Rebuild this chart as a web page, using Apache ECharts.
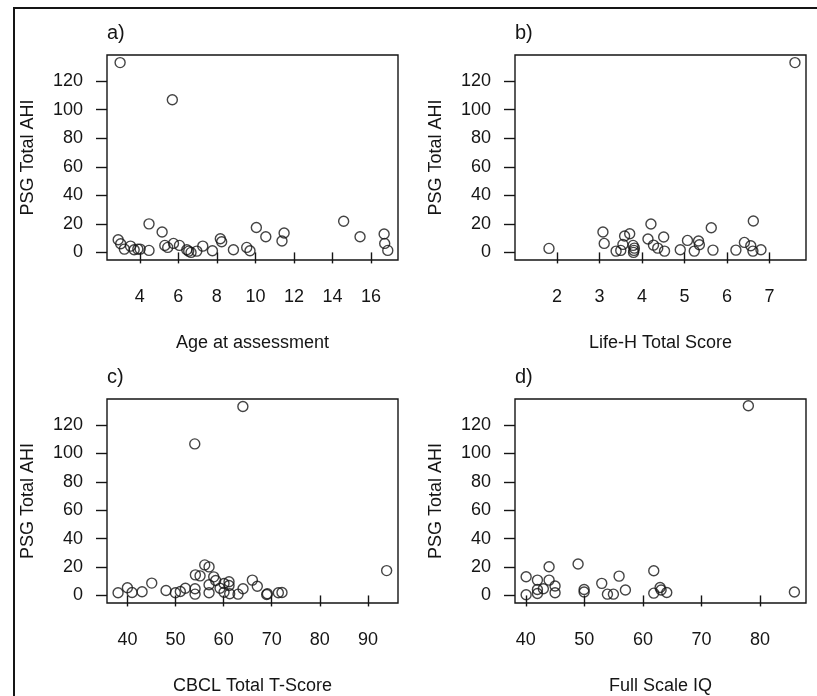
<!DOCTYPE html>
<html lang="en">
<head>
    <meta charset="UTF-8">
    <title>PSG Total AHI scatter panels</title>
    <script src="https://cdn.jsdelivr.net/npm/echarts@6/dist/echarts.min.js"></script>
    <style>
        html, body { margin: 0; padding: 0; background: #fff; }
        #main { width: 817px; height: 696px; }
    </style>
</head>
<body>
<div id="main"></div>
<script>
    // panel a) age at assessment vs AHI
    var ageX = [2.98, 5.69, 4.48, 5.16, 2.88, 3.01, 3.2, 3.52, 3.71, 3.9, 4.02, 4.48, 5.3, 5.45, 5.75, 6.06, 6.44, 6.54,
        6.66, 6.96, 7.27, 7.77, 8.18, 8.25, 8.86, 9.55, 9.72, 10.05, 10.54, 11.38, 11.49, 14.58, 15.43, 16.68, 16.71, 16.87];
    var ageY = [133, 107, 20, 14.3, 8.9, 6.1, 2.3, 4.4, 1.9, 2.3, 2.3, 1.4, 4.9, 3.5, 6.3, 4.9, 1.9, 0.9,
        0, 0.9, 4.4, 1.2, 9.6, 7.5, 1.9, 3.5, 1.2, 17.5, 11, 8, 13.6, 21.8, 11, 12.9, 6.3, 1.4];

    // panel b) Life-H total score vs AHI
    var lifeX = [1.81, 3.08, 3.11, 3.39, 3.5, 3.55, 3.59, 3.71, 3.79, 3.82, 3.81, 3.8, 4.14, 4.21, 4.27, 4.37, 4.51,
        4.53, 4.9, 5.07, 5.23, 5.33, 5.35, 5.63, 5.67, 6.21, 6.41, 6.56, 6.62, 6.61, 6.8, 7.6];
    var lifeY = [2.8, 14.3, 6.3, 0.9, 1.4, 5.6, 11.5, 13.1, 4.9, 3.0, 1.4, 0, 9.4, 19.9, 5.1, 3.0, 10.8,
        0.9, 1.9, 8.4, 0.9, 8.0, 5.4, 17.3, 1.6, 1.6, 7.0, 4.7, 22, 0.9, 1.9, 133];

    // panel c) CBCL total T-score vs AHI
    var cbclX = [38.06, 40, 40.97, 43.05, 45.06, 48.03, 49.97, 51, 52.05, 54.06, 54.06, 54.13, 55.1, 56.07, 56.97, 57.94,
        56.97, 56.97, 58.35, 59.25, 60.08, 60.08, 61.12, 61.12, 61.26, 63, 64.03, 65.97, 67, 68.95, 69.09, 71.37,
        72.13, 93.88, 54, 64];
    var cbclY = [1.9, 5.4, 2.1, 2.6, 8.7, 3.5, 1.9, 2.8, 5.1, 4.7, 0.9, 14.5, 13.8, 21.5, 20.1, 13.1,
        7.5, 1.9, 10.5, 5.1, 8.4, 2.3, 9.6, 7.0, 1.2, 0.9, 4.7, 10.8, 6.5, 0.7, 1.2, 1.9,
        2.1, 17.5, 106.7, 133];

    // panel d) full scale IQ vs AHI
    var iqX = [40.06, 40.06, 41.99, 41.99, 41.99, 43, 43.98, 43.98, 45, 45, 48.93, 49.96, 49.96, 52.97, 53.94, 54.96,
        55.93, 57.01, 61.85, 61.85, 62.93, 63.1, 64.07, 85.86, 78];
    var iqY = [13.2, 0.5, 10.8, 4.2, 1.4, 4.7, 20.2, 10.8, 6.6, 1.9, 22.1, 4.2, 2.4, 8.5, 0.9, 0.9,
        13.6, 3.8, 17.4, 1.6, 5.6, 3.8, 2.1, 2.4, 133.6];

    var yTicks = [0, 20, 40, 60, 80, 100, 120];
    var ageTicks = [4, 6, 8, 10, 12, 14, 16];
    var lifeTicks = [2, 3, 4, 5, 6, 7];
    var cbclTicks = [40, 50, 60, 70, 80, 90];
    var iqTicks = [40, 50, 60, 70, 80];

    var panels = [
        { label: 'a)', xs: ageX, ys: ageY, ticks: ageTicks, min: 2.3, max: 17.4, name: 'Age at assessment', left: 107, top: 55, h: 205 },
        { label: 'b)', xs: lifeX, ys: lifeY, ticks: lifeTicks, min: 1.01, max: 7.86, name: 'Life-H Total Score', left: 515, top: 55, h: 205 },
        { label: 'c)', xs: cbclX, ys: cbclY, ticks: cbclTicks, min: 35.76, max: 96.24, name: 'CBCL Total T-Score', left: 107, top: 399, h: 204 },
        { label: 'd)', xs: iqX, ys: iqY, ticks: iqTicks, min: 38.16, max: 87.84, name: 'Full Scale IQ', left: 515, top: 399, h: 204 }
    ];

    var font = 'Liberation Sans, Arial, sans-serif';
    var ink = '#151515';

    var option = {
        animation: false,
        backgroundColor: '#fff',
        textStyle: { fontFamily: font, color: ink },
        title: [],
        grid: [],
        xAxis: [],
        yAxis: [],
        series: [],
        graphic: [{
            type: 'rect',
            shape: { x: 14, y: 8, width: 900, height: 800 },
            style: { fill: 'none', stroke: ink, lineWidth: 2 },
            silent: true
        }]
    };

    for (var i = 0; i < panels.length; i++) {
        var p = panels[i];
        var pts = [];
        for (var j = 0; j < p.xs.length; j++) {
            pts.push([p.xs[j], p.ys[j]]);
        }
        option.title.push({
            text: p.label,
            left: p.left,
            top: p.top - 32,
            padding: 0,
            textStyle: { fontFamily: font, fontSize: 20, fontWeight: 'normal', color: ink }
        });
        option.grid.push({
            left: p.left, top: p.top, width: 291, height: p.h,
            show: true, borderColor: ink, borderWidth: 1.4, backgroundColor: 'transparent'
        });
        option.xAxis.push({
            type: 'value', gridIndex: i, min: p.min, max: p.max,
            name: p.name, nameLocation: 'middle', nameGap: 74,
            nameTextStyle: { fontFamily: font, fontSize: 18, color: ink },
            splitLine: { show: false },
            axisLine: { show: false },
            axisTick: { show: true, inside: false, length: 11, customValues: p.ticks, lineStyle: { color: ink, width: 1.4 } },
            axisLabel: { customValues: p.ticks, margin: 28, fontFamily: font, fontSize: 18, color: ink }
        });
        option.yAxis.push({
            type: 'value', gridIndex: i, min: -5.32, max: 138.32,
            name: 'PSG Total AHI', nameLocation: 'middle', nameGap: 70, nameRotate: 90,
            nameTextStyle: { fontFamily: font, fontSize: 18, color: ink },
            splitLine: { show: false },
            axisLine: { show: false },
            axisTick: { show: true, inside: false, length: 11, customValues: yTicks, lineStyle: { color: ink, width: 1.4 } },
            axisLabel: { customValues: yTicks, margin: 24, fontFamily: font, fontSize: 18, color: ink }
        });
        option.series.push({
            type: 'scatter', xAxisIndex: i, yAxisIndex: i,
            symbol: 'circle', symbolSize: 10,
            itemStyle: { color: 'rgba(255,255,255,0)', borderColor: ink, borderWidth: 1.4 },
            data: pts
        });
    }

    var chart = echarts.init(document.getElementById('main'));
    chart.setOption(option);
</script>
</body>
</html>
